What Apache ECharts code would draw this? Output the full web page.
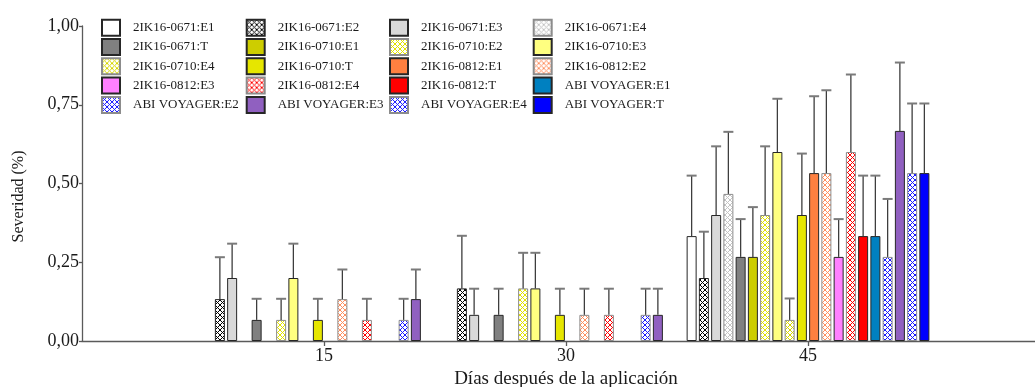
<!DOCTYPE html>
<html>
<head>
<meta charset="utf-8">
<script src="https://cdn.jsdelivr.net/npm/echarts@6/dist/echarts.min.js"></script>
<style>
  html, body { margin: 0; padding: 0; background: #ffffff; }
  #chart { width: 1035px; height: 387px; }
</style>
</head>
<body>
<div id="chart"></div>
<script>
// Sampling days (days after application)
const days = [15, 30, 45];
const xTickValues = [15, 30, 45];

// Series: variety x treatment, in plotting order
const seriesNames = [
  '2IK16-0671:E1', '2IK16-0671:E2', '2IK16-0671:E3', '2IK16-0671:E4', '2IK16-0671:T',
  '2IK16-0710:E1', '2IK16-0710:E2', '2IK16-0710:E3', '2IK16-0710:E4', '2IK16-0710:T',
  '2IK16-0812:E1', '2IK16-0812:E2', '2IK16-0812:E3', '2IK16-0812:E4', '2IK16-0812:T',
  'ABI VOYAGER:E1', 'ABI VOYAGER:E2', 'ABI VOYAGER:E3', 'ABI VOYAGER:E4', 'ABI VOYAGER:T'
];

// Mean severity per series at each day
const sev15 = [0, 0.133, 0.2, 0, 0.067, 0, 0.067, 0.2, 0, 0.067, 0, 0.133, 0, 0.067, 0, 0, 0.067, 0.133, 0, 0];
const sev30 = [0, 0.167, 0.083, 0, 0.083, 0, 0.167, 0.167, 0, 0.083, 0, 0.083, 0, 0.083, 0, 0, 0.083, 0.083, 0, 0];
const sev45 = [0.333, 0.2, 0.4, 0.467, 0.267, 0.267, 0.4, 0.6, 0.067, 0.4, 0.533, 0.533, 0.267, 0.6, 0.333, 0.333, 0.267, 0.667, 0.533, 0.533];

// Standard error per series at each day
const err15 = [0, 0.133, 0.109, 0, 0.067, 0, 0.067, 0.109, 0, 0.067, 0, 0.094, 0, 0.067, 0, 0, 0.067, 0.094, 0, 0];
const err30 = [0, 0.167, 0.083, 0, 0.083, 0, 0.113, 0.113, 0, 0.083, 0, 0.083, 0, 0.083, 0, 0, 0.083, 0.083, 0, 0];
const err45 = [0.192, 0.147, 0.218, 0.197, 0.12, 0.158, 0.218, 0.169, 0.068, 0.195, 0.244, 0.263, 0.12, 0.246, 0.192, 0.192, 0.184, 0.217, 0.221, 0.221];

// Fill colour per series and whether it is cross-hatched
const fillColors = [
  '#ffffff', '#000000', '#d9d9d9', '#c4c4c4', '#808080',
  '#cdcd00', '#e2e200', '#ffff80', '#d6d600', '#e6e600',
  '#ff8040', '#ff9060', '#ff80ff', '#ff0000', '#ff0000',
  '#0080c0', '#1a1aff', '#9060c0', '#1a1aff', '#0000ff'
];
const hatched = [
  false, true, false, true, false,
  false, true, false, true, false,
  false, true, false, true, false,
  false, true, false, true, false
];

const sevByDay = [sev15, sev30, sev45];
const errByDay = [err15, err30, err45];

const BAR_W = 10;
const BAR_GAP = 2.25;
const FONT = '"Liberation Serif", "DejaVu Serif", serif';

// Small tiled canvas giving a diamond cross-hatch in the given colour
function hatchPattern(color) {
  const n = 5;
  const c = document.createElement('canvas');
  c.width = n; c.height = n;
  const ctx = c.getContext('2d');
  ctx.fillStyle = '#ffffff';
  ctx.fillRect(0, 0, n, n);
  ctx.fillStyle = color;
  for (let i = 0; i < n; i++) {
    ctx.fillRect(i, i, 1, 1);
    ctx.fillRect(n - 1 - i, i, 1, 1);
  }
  return { image: c, repeat: 'repeat' };
}

const barSeries = seriesNames.map((name, i) => ({
  type: 'bar',
  name: name,
  barWidth: BAR_W,
  barGap: (BAR_GAP / BAR_W * 100) + '%',
  itemStyle: {
    color: hatched[i] ? hatchPattern(fillColors[i]) : fillColors[i],
    borderColor: hatched[i] && i !== 1 ? '#8c8c8c' : '#262626',
    borderWidth: 1
  },
  emphasis: { disabled: true },
  data: days.map((d, k) => {
    const v = sevByDay[k][i];
    return v > 0 ? [d, v] : { value: [d, v], itemStyle: { borderWidth: 0 } };
  }),
  z: 2
}));

// Error bar items: [day, upper end, mean, series index]
const errData = [];
days.forEach((d, k) => {
  seriesNames.forEach((_, i) => {
    const v = sevByDay[k][i];
    if (v > 0) errData.push([d, v + errByDay[k][i], v, i]);
  });
});

const nSeries = seriesNames.length;
const totalW = nSeries * BAR_W + (nSeries - 1) * BAR_GAP;

const errorSeries = {
  type: 'custom',
  name: 'error',
  z: 3,
  silent: true,
  data: errData,
  encode: { x: 0, y: 1 },
  renderItem: function (params, api) {
    const top = api.coord([api.value(0), api.value(1)]);
    const base = api.coord([api.value(0), api.value(2)]);
    const i = api.value(3);
    const x = top[0] - totalW / 2 + i * (BAR_W + BAR_GAP) + BAR_W / 2;
    return {
      type: 'group',
      children: [
        {
          type: 'line',
          shape: { x1: x, y1: base[1], x2: x, y2: top[1] },
          style: { stroke: '#3d3d3d', lineWidth: 1.3 }
        },
        {
          type: 'line',
          shape: { x1: x - BAR_W / 2, y1: top[1], x2: x + BAR_W / 2, y2: top[1] },
          style: { stroke: '#7a7a7a', lineWidth: 2 }
        }
      ]
    };
  }
};

// Legend laid out as four columns, filled row by row
const legendCols = [101, 245.7, 389, 532.7];
const legends = legendCols.map((left, c) => ({
  orient: 'vertical',
  left: left,
  top: 18.7,
  padding: 0,
  itemWidth: 18,
  itemHeight: 16,
  itemGap: 1.3,
  icon: 'rect',
  selectedMode: false,
  data: seriesNames.filter((_, i) => i % 4 === c),
  textStyle: {
    fontFamily: FONT,
    fontSize: 13,
    color: '#1a1a1a',
    padding: [0, 0, 0, 8]
  }
}));

const chart = echarts.init(document.getElementById('chart'), null, { renderer: 'canvas' });
chart.setOption({
  animation: false,
  backgroundColor: '#ffffff',
  grid: { left: 82, right: -15, top: 26, bottom: 46, outerBoundsMode: 'none', containLabel: false },
  legend: legends,
  xAxis: {
    type: 'value',
    min: 0,
    max: 60,
    interval: 15,
    name: 'Días después de la aplicación',
    nameLocation: 'middle',
    nameGap: 27,
    nameTextStyle: { fontFamily: FONT, fontSize: 19, color: '#1a1a1a' },
    axisLine: { show: true, onZero: false, lineStyle: { color: '#5a5a5a', width: 1.3 } },
    axisTick: { show: true, length: 5, customValues: xTickValues, lineStyle: { color: '#5a5a5a', width: 1.3 } },
    axisLabel: {
      customValues: xTickValues,
      margin: 6,
      fontFamily: FONT,
      fontSize: 18,
      color: '#1a1a1a'
    },
    splitLine: { show: false }
  },
  yAxis: {
    type: 'value',
    min: 0,
    max: 1,
    interval: 0.25,
    name: 'Severidad (%)',
    nameLocation: 'middle',
    nameGap: 55,
    nameTextStyle: { fontFamily: FONT, fontSize: 16, color: '#1a1a1a', padding: [0, 26, 0, 0] },
    axisLine: { show: true, lineStyle: { color: '#5a5a5a', width: 1.3 } },
    axisTick: { show: true, length: 3, lineStyle: { color: '#5a5a5a', width: 1.3 } },
    axisLabel: {
      margin: 3,
      fontFamily: FONT,
      fontSize: 18,
      color: '#1a1a1a',
      formatter: v => v.toFixed(2).replace('.', ',')
    },
    splitLine: { show: false }
  },
  series: barSeries.concat([errorSeries])
});
</script>
</body>
</html>
